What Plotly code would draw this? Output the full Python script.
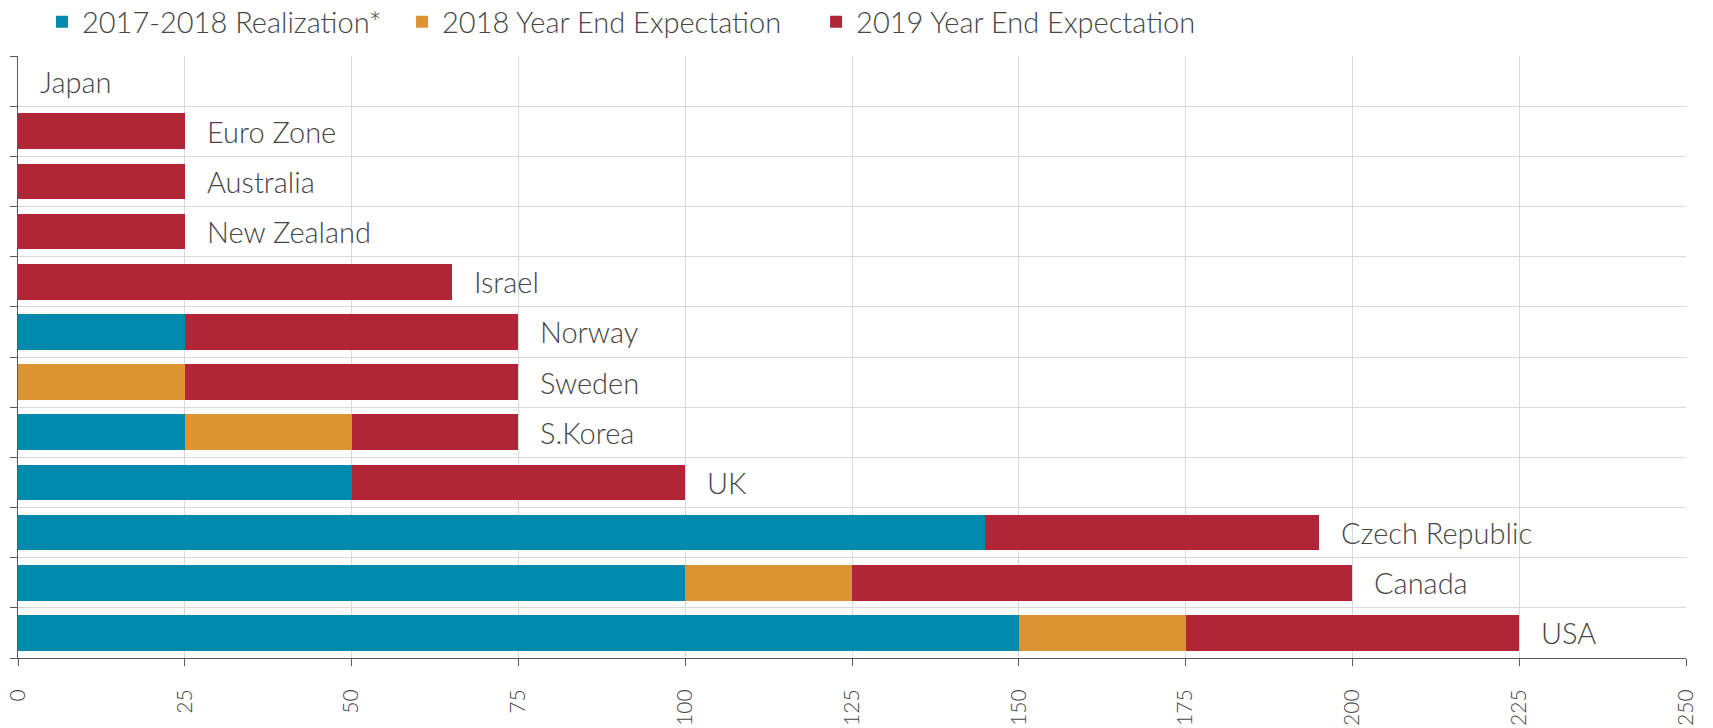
import plotly.graph_objects as go

categories = ["Japan", "Euro Zone", "Australia", "New Zealand", "Israel", "Norway",
              "Sweden", "S.Korea", "UK", "Czech Republic", "Canada", "USA"]
realization = [0, 0, 0, 0, 0, 25, 0, 25, 50, 145, 100, 150]
ye2018 = [0, 0, 0, 0, 0, 0, 25, 25, 0, 0, 25, 25]
ye2019 = [0, 25, 25, 25, 65, 50, 50, 25, 50, 50, 75, 50]
series_names = ["2017-2018 Realization*", "2018 Year End Expectation", "2019 Year End Expectation"]
colors = ["#008BAE", "#DB9430", "#B02636"]
x_ticks = [0, 25, 50, 75, 100, 125, 150, 175, 200, 225, 250]

FONT = "Lato"
TXT = "#454545"

pos = list(range(len(categories)))
legend_ids = ["legend", "legend2", "legend3"]
legend_x = [0.0245, 0.2347, 0.4764]
fig = go.Figure()
for name, vals, col, lg in zip(series_names, [realization, ye2018, ye2019], colors, legend_ids):
    fig.add_trace(go.Bar(
        y=pos, x=vals, name=name, orientation="h", legend=lg,
        marker=dict(color=col, line=dict(width=0)),
        hoverinfo="x+name",
    ))

totals = [a + b + c for a, b, c in zip(realization, ye2018, ye2019)]
for p, cat, t in zip(pos, categories, totals):
    fig.add_annotation(x=t, y=p, text=cat, showarrow=False, xanchor="left",
                       xshift=20, font=dict(family=FONT, size=29, color=TXT, weight=300))

legend_font = dict(family=FONT, size=29, color=TXT, weight=300)
legends = {
    lg: dict(orientation="h", xref="container", yref="container",
             x=lx, y=0.97, xanchor="left", yanchor="middle",
             font=legend_font, traceorder="normal")
    for lg, lx in zip(legend_ids, legend_x)
}
fig.update_layout(
    barmode="stack",
    bargap=0.29,
    width=1713, height=728,
    margin=dict(l=18, r=27, t=56, b=70),
    paper_bgcolor="white", plot_bgcolor="white",
    font=dict(family=FONT, size=22, color=TXT),
    showlegend=True,
    **legends,
)
fig.update_xaxes(
    range=[0, 250], tickvals=x_ticks, tickangle=-90,
    showgrid=True, gridcolor="#D9D9D9", gridwidth=1,
    showline=True, linecolor="#595959", linewidth=1,
    ticks="outside", ticklen=7, tickcolor="#595959",
    ticklabelstandoff=15, automargin=False,
    zeroline=False, tickfont=dict(family=FONT, size=21, color=TXT, weight=300),
)
boundaries = [i - 0.5 for i in range(len(categories) + 1)]
fig.update_yaxes(
    range=[len(categories) - 0.5, -0.5],
    tickvals=boundaries, showticklabels=False, automargin=False,
    showgrid=True, gridcolor="#D9D9D9", gridwidth=1,
    showline=True, linecolor="#595959", linewidth=1,
    ticks="outside", ticklen=7, tickcolor="#595959",
    zeroline=False,
)

fig.write_html("out.html", config={"displayModeBar": False},
               post_script="document.body.style.margin='0';")
